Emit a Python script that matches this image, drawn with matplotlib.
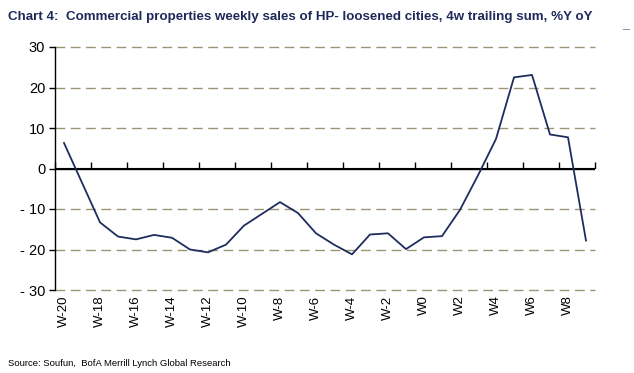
import matplotlib
matplotlib.use('Agg')
import matplotlib.pyplot as plt
import numpy as np

weeks = ['W-20', 'W-19', 'W-18', 'W-17', 'W-16', 'W-15', 'W-14', 'W-13', 'W-12', 'W-11',
         'W-10', 'W-9', 'W-8', 'W-7', 'W-6', 'W-5', 'W-4', 'W-3', 'W-2', 'W-1',
         'W0', 'W1', 'W2', 'W3', 'W4', 'W5', 'W6', 'W7', 'W8', 'W9']
yoy = [6.3, -3.5, -13.3, -16.8, -17.5, -16.4, -17.1, -20.0, -20.7, -18.8,
       -14.1, -11.2, -8.3, -11.0, -16.0, -18.8, -21.2, -16.3, -16.0, -19.9,
       -17.0, -16.7, -10.2, -1.7, 7.3, 22.5, 23.1, 8.4, 7.7, -17.8]
yticks = [30, 20, 10, 0, -10, -20, -30]
ytick_labels = ['30', '20', '10', '0', '- 10', '- 20', '- 30']

title = 'Chart 4:  Commercial properties weekly sales of HP- loosened cities, 4w trailing sum, %Y oY'
source = 'Source: Soufun,  BofA Merrill Lynch Global Research'

plt.rcParams['font.family'] = ['Liberation Sans', 'DejaVu Sans']

fig = plt.figure(figsize=(6.34, 3.73), dpi=100)
ax = fig.add_axes([55/634, 1-290/373, 540/634, 243/373])

x = np.arange(len(weeks))
ax.plot(x, yoy, color='#1f2d5e', linewidth=1.3, zorder=3)

ax.set_xlim(-0.5, len(weeks)-0.5)
ax.set_ylim(-30, 30)

# dashed gridlines, solid zero line
for v in yticks:
    if v == 0:
        continue
    ax.axhline(v, color='#9c9474', linewidth=1.0, dashes=(7, 4), zorder=1, clip_on=False)
ax.axhline(0, color='black', linewidth=1.0, zorder=2)

for s in ['top', 'right', 'bottom']:
    ax.spines[s].set_visible(False)
ax.spines['left'].set_linewidth(1.0)
ax.spines['left'].set_zorder(4)

ax.set_yticks(yticks)
ax.set_yticklabels(ytick_labels)
ax.tick_params(axis='y', direction='out', length=4, width=1, labelsize=10.5, pad=3)

ax.set_xticks(x[::2])
ax.set_xticklabels(weeks[::2], rotation=90, fontsize=9.5)
ax.tick_params(axis='x', length=0, pad=4)

# tick marks on the zero line at category boundaries
sec = ax.secondary_xaxis(0.5)
sec.set_xticks(np.arange(-0.5, len(weeks), 2))
sec.set_xticklabels([])
sec.tick_params(direction='out', length=4, width=1)
sec.spines['bottom'].set_visible(False)

fig.text(8/634, 1-17/373, title, fontsize=9.6, fontweight='bold', color='#1f2a5a',
         va='center', ha='left')
fig.text(622/634, 1-24/373, '_', fontsize=9, color='#7a8a99', va='center', ha='left')
fig.text(8/634, 1-363/373, source, fontsize=6.8, color='black',
         va='center', ha='left')

fig.savefig('out.png', dpi=100)
